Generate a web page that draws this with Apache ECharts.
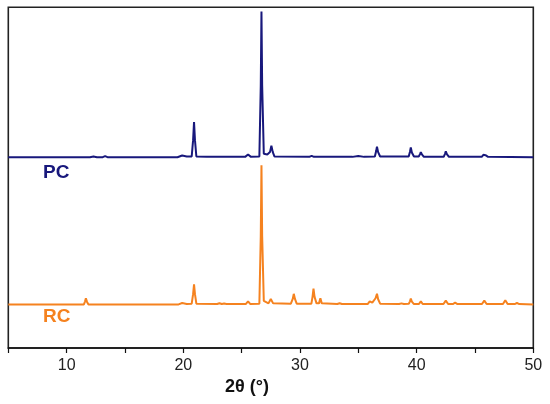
<!DOCTYPE html>
<html>
<head>
<meta charset="utf-8">
<script src="https://cdn.jsdelivr.net/npm/echarts@6/dist/echarts.min.js"></script>
<style>html,body{margin:0;padding:0;background:#fff}#c{width:550px;height:404px}</style>
</head>
<body>
<div id="c"></div>
<script>
// 2θ (deg) vs intensity above each pattern's own baseline (arbitrary units)
const pcPattern = [
  [5,0],[12.0,0],[12.3,0.2],[12.6,0],[13.1,0],[13.3,0.3],[13.5,0],[19.5,0],[19.9,0.5],[20.3,0.2],
  [20.72,0.2],[20.84,5],[20.92,10.3],[21.0,5],[21.12,0.2],[22,0.1],[25.3,0.1],[25.55,0.8],[25.8,0.1],
  [26.52,0.2],[26.64,21],[26.7,42.8],[26.76,21],[26.9,1.0],[27.2,0.8],[27.43,1.5],[27.55,3.4],[27.67,1.5],[27.82,0.2],
  [30.8,0.1],[31.0,0.4],[31.2,0.1],[34.5,0.1],[35,0.35],[35.5,0.1],
  [36.42,0.2],[36.53,1.8],[36.6,3.1],[36.7,1.5],[36.87,0.2],
  [39.32,0.2],[39.43,1.6],[39.5,2.9],[39.59,1.4],[39.77,0.2],
  [40.18,0.2],[40.29,0.9],[40.36,1.5],[40.45,0.8],[40.62,0.1],
  [42.32,0.1],[42.43,1.0],[42.5,1.7],[42.59,0.9],[42.77,0.1],
  [45.58,0.1],[45.72,0.7],[45.8,1.2],[45.9,0.6],[46.12,0.1],[50,0]
];
const rcPattern = [
  [5,0],[11.48,0],[11.58,0.9],[11.65,1.8],[11.74,0.8],[11.87,0],[19.6,0],[19.9,0.4],[20.3,0.1],
  [20.72,0.2],[20.84,3],[20.92,5.9],[21.0,3],[21.12,0.2],[22.9,0.1],[23.1,0.35],[23.3,0.1],[23.5,0.25],[23.7,0.1],
  [25.35,0.1],[25.55,0.9],[25.75,0.1],[26.52,0.2],[26.64,20],[26.7,40.8],[26.76,20],[26.9,1.0],
  [27.3,0.3],[27.5,1.6],[27.7,0.3],[29.22,0.2],[29.38,1.6],[29.47,3.1],[29.57,1.6],[29.72,0.2],
  [30.98,0.2],[31.08,2.3],[31.16,4.6],[31.25,2.2],[31.42,0.3],[31.63,0.3],[31.75,1.8],[31.87,0.3],
  [33.2,0.1],[33.4,0.35],[33.6,0.1],[35.8,0.1],[35.98,0.9],[36.2,0.5],[36.48,1.8],[36.6,3.1],[36.7,1.5],[36.87,0.2],
  [38.5,0.1],[38.7,0.3],[38.9,0.1],[39.33,0.2],[39.43,0.9],[39.5,1.7],[39.59,0.8],[39.77,0.1],
  [40.2,0.1],[40.36,0.9],[40.52,0.1],[42.3,0.1],[42.5,1.1],[42.7,0.1],[43.1,0.1],[43.3,0.5],[43.5,0.1],
  [45.6,0.1],[45.8,1.1],[46.0,0.1],[47.4,0.1],[47.6,1.2],[47.8,0.1],[48.4,0.1],[48.6,0.4],[48.8,0.1],[50,0]
];
const seriesNames = ['PC', 'RC'];
const seriesOffsets = [56, 12.8];   // vertical stacking offsets of the two patterns
const xTicks = [10, 20, 30, 40, 50];
const xLabel = '2θ (°)';

const colors = ['#18187c', '#f5821f'];
const patterns = [pcPattern, rcPattern];

const chart = echarts.init(document.getElementById('c'));
chart.setOption({
  animation: false,
  backgroundColor: '#fff',
  grid: { left: 8.3, right: 16.7, top: 7.3, bottom: 56, show: true, borderColor: '#222', borderWidth: 1.6 },
  xAxis: {
    type: 'value', min: 5, max: 50, interval: 5,
    axisLine: { show: true, lineStyle: { color: '#111', width: 1.6 } },
    axisTick: { show: true, inside: false, length: 5, lineStyle: { color: '#111', width: 1.2 } },
    splitLine: { show: false },
    axisLabel: {
      margin: 10, color: '#222', fontSize: 16, fontFamily: 'Liberation Sans, Arial, sans-serif',
      formatter: v => xTicks.includes(v) ? String(v) : ''
    }
  },
  yAxis: {
    type: 'value', min: 0, max: 100,
    axisLine: { show: false }, axisTick: { show: false }, axisLabel: { show: false }, splitLine: { show: false }
  },
  series: patterns.map((p, i) => ({
    name: seriesNames[i], type: 'line', showSymbol: false, symbol: 'none',
    lineStyle: { color: colors[i], width: 2 }, itemStyle: { color: colors[i] },
    data: p.map(d => [d[0], d[1] + seriesOffsets[i]])
  })),
  graphic: [
    { type: 'text', left: 43, top: 163, style: { text: seriesNames[0], fill: colors[0], font: 'bold 19px Liberation Sans, Arial, sans-serif' } },
    { type: 'text', left: 43, top: 307, style: { text: seriesNames[1], fill: colors[1], font: 'bold 19px Liberation Sans, Arial, sans-serif' } },
    { type: 'text', left: 225, top: 378, style: { text: xLabel, fill: '#111', font: 'bold 18px Liberation Sans, Arial, sans-serif' } }
  ]
});
</script>
</body>
</html>
